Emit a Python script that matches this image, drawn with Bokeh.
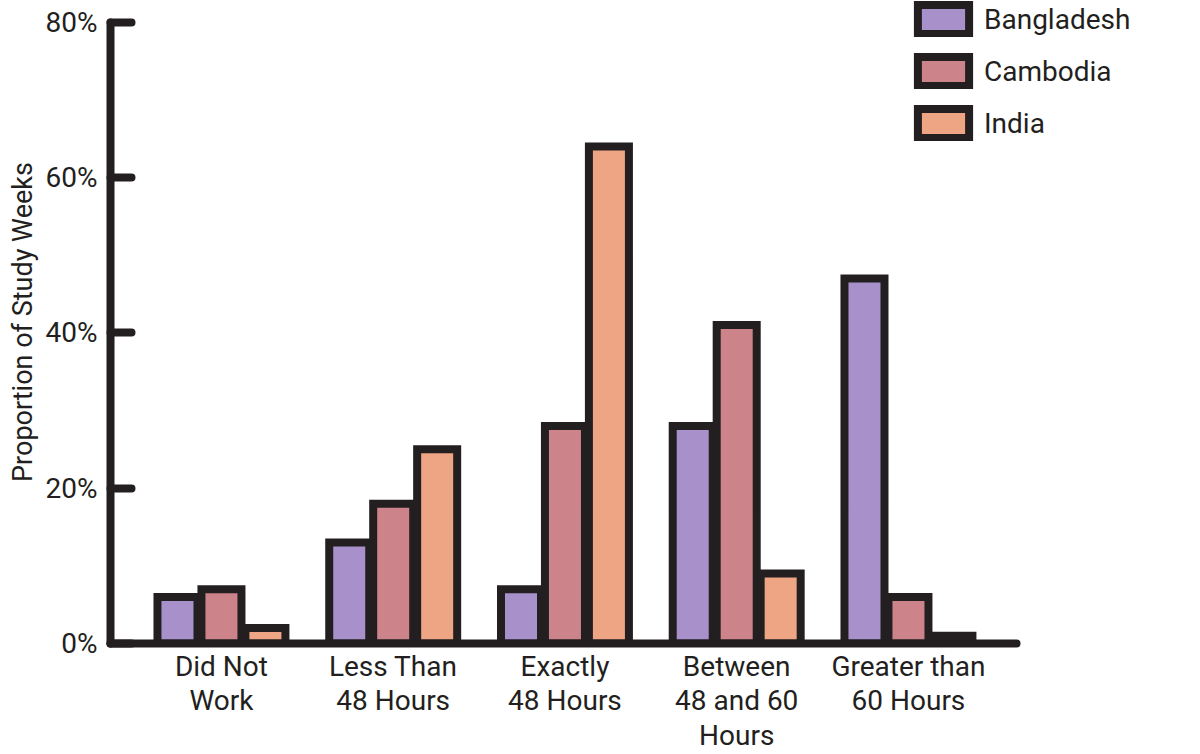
from bokeh.plotting import figure
from bokeh.models import Range1d, FixedTicker, PrintfTickFormatter, Legend, LegendItem, ColumnDataSource
from bokeh.embed import file_html
from bokeh.resources import INLINE

categories = ["Did Not\nWork", "Less Than\n48 Hours", "Exactly\n48 Hours", "Between\n48 and 60\nHours", "Greater than\n60 Hours"]
countries = ["Bangladesh", "Cambodia", "India"]
bangladesh = [6, 13, 7, 28, 47]
cambodia = [7, 18, 28, 41, 6]
india = [2, 25, 64, 9, 1]
y_ticks = [0, 20, 40, 60, 80]

colors = ["#A891CA", "#CC8389", "#EDA584"]
ink = "#231F20"
FONT = "Roboto"

X0, X1 = -0.646, 4.629
px_per_cat = 171.75
px_per_pct = 7.766
FW, FH = 1074, 643

p = figure(frame_width=FW, frame_height=FH, output_backend="svg", toolbar_location=None,
           x_range=Range1d(X0, X0 + FW / px_per_cat), y_range=Range1d(0, FH / px_per_pct),
           min_border_left=110, min_border_right=0, min_border_top=0, min_border_bottom=109)
p.outline_line_color = None
p.xgrid.visible = False
p.ygrid.visible = False
p.background_fill_color = "white"

pitch = 0.256
width = 0.233
series = [bangladesh, cambodia, india]
renderers = []
for k, (name, vals, col) in enumerate(zip(countries, series, colors)):
    src = ColumnDataSource(dict(x=[i + (k - 1) * pitch for i in range(len(categories))], top=vals))
    r = p.vbar(x="x", top="top", bottom=0, width=width, source=src,
               fill_color=col, line_color=ink, line_width=8, line_join="miter")
    renderers.append(r)

for ax in (p.xaxis[0], p.yaxis[0]):
    ax.axis_line_width = 8
    ax.axis_line_color = ink
    ax.axis_line_cap = "round"
    ax.major_label_text_font = FONT
    ax.major_label_text_font_size = "28px"
    ax.major_label_text_color = ink
    ax.minor_tick_line_color = None

p.yaxis.bounds = (0, 80)
p.yaxis.ticker = FixedTicker(ticks=y_ticks)
p.yaxis.formatter = PrintfTickFormatter(format="%d%%")
p.yaxis.major_tick_in = 21
p.yaxis.major_tick_out = 0
p.yaxis.major_tick_line_width = 8
p.yaxis.major_tick_line_color = ink
p.yaxis.major_tick_line_cap = "round"
p.yaxis.major_label_standoff = 13
p.yaxis.axis_label = "Proportion of Study Weeks"
p.yaxis.axis_label_text_font = FONT
p.yaxis.axis_label_text_font_size = "27px"
p.yaxis.axis_label_text_font_style = "normal"
p.yaxis.axis_label_text_color = ink
p.yaxis.axis_label_standoff = 4

p.xaxis.bounds = (X0, X1)
p.xaxis.ticker = FixedTicker(ticks=list(range(len(categories))))
p.xaxis.major_label_overrides = {i: c for i, c in enumerate(categories)}
p.xaxis.major_tick_line_color = None
p.xaxis.major_label_standoff = 0
p.xaxis.major_label_text_line_height = 1.05

legend = Legend(items=[LegendItem(label=n, renderers=[r]) for n, r in zip(countries, renderers)],
                location=(801, 502), orientation="vertical",
                glyph_width=64, glyph_height=36, spacing=16, padding=0, margin=0,
                label_standoff=9, label_text_font=FONT, label_text_font_size="28px",
                label_text_color=ink, border_line_color=None, background_fill_alpha=0)
p.add_layout(legend, "center")

open("out.html", "w").write(file_html(p, INLINE))
